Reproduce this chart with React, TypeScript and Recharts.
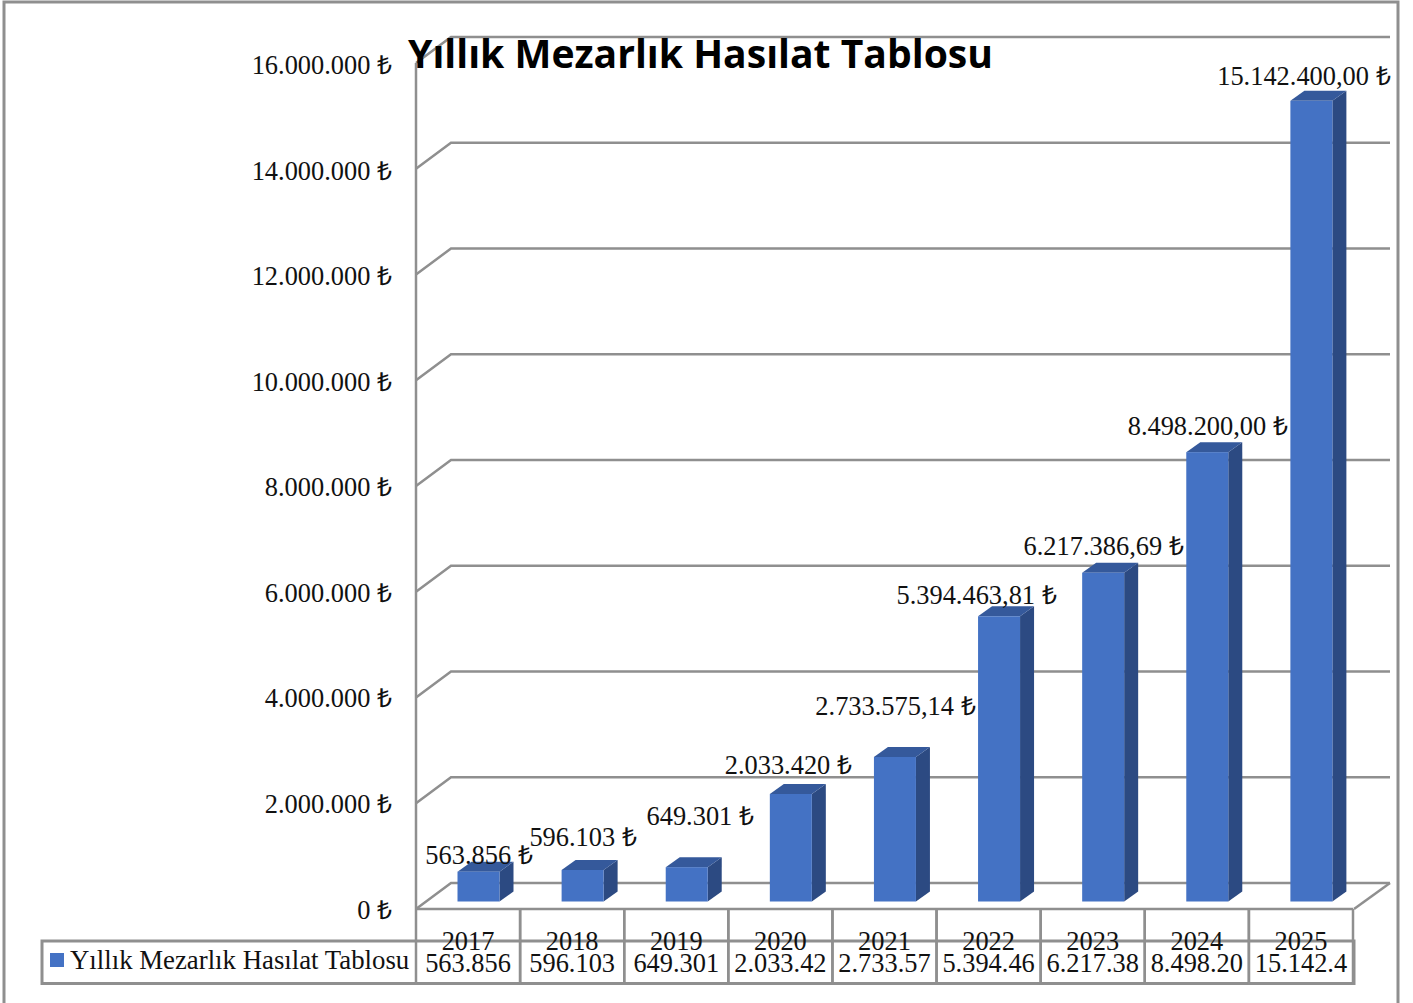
import React from "react";
import { Bar, CartesianGrid, ComposedChart, LabelList, XAxis, YAxis } from "recharts";

const years = ["2017", "2018", "2019", "2020", "2021", "2022", "2023", "2024", "2025"];
const revenue = [563856, 596103, 649301, 2033420, 2733575.14, 5394463.81, 6217386.69, 8498200, 15142400];
const barLabels = [
  "563.856 ₺",
  "596.103 ₺",
  "649.301 ₺",
  "2.033.420 ₺",
  "2.733.575,14 ₺",
  "5.394.463,81 ₺",
  "6.217.386,69 ₺",
  "8.498.200,00 ₺",
  "15.142.400,00 ₺",
];
// the source table cuts these off, kept as they appear
const tableCells = ["563.856", "596.103", "649.301", "2.033.42", "2.733.57", "5.394.46", "6.217.38", "8.498.20", "15.142.4"];
const yTicks = [0, 2000000, 4000000, 6000000, 8000000, 10000000, 12000000, 14000000, 16000000];
const yTickLabels = ["0 ₺", "2.000.000 ₺", "4.000.000 ₺", "6.000.000 ₺", "8.000.000 ₺", "10.000.000 ₺", "12.000.000 ₺", "14.000.000 ₺", "16.000.000 ₺"];
const seriesName = "Yıllık Mezarlık Hasılat Tablosu";

const chartData = years.map((year, i) => ({ year, value: revenue[i], cell: tableCells[i], label: barLabels[i] }));

const WIDTH = 1413;
const HEIGHT = 1003;
const LEFT = 416;
const RIGHT = 1353;
const TOP = 63;
const FLOOR = 909;
const BAND = (RIGHT - LEFT) / years.length;
const DEPTH_X = 35;
const DEPTH_Y = 26;
const LINE = "#8f8f8f";
const SERIF = "'Liberation Serif', 'Times New Roman', serif";
const TEXT_SIZE = 26.4;

// hand placed in the original, relative to the top centre of the bar
const labelShift: [number, number][] = [
  [0, -7], [0, -23], [13, -42], [-3, -19], [0, -41], [-23, -12], [0, -17], [0, -17], [-8, -15],
];

function Bar3D(props: any) {
  const { x, y, width, height } = props;
  const left = x + 10.5;
  const top = y - 7.5;
  const right = left + width;
  const bottom = top + height;
  const sx = 14;
  const sy = 10;
  return (
    <g>
      <polygon points={`${right},${top} ${right + sx},${top - sy} ${right + sx},${bottom - sy} ${right},${bottom}`} fill="#2c4a82" />
      <polygon points={`${left},${top} ${left + sx},${top - sy} ${right + sx},${top - sy} ${right},${top}`} fill="#35599b" />
      <rect x={left} y={top} width={width} height={height} fill="#4472c4" />
    </g>
  );
}

function BarLabel(props: any) {
  const { x, y, width, index } = props;
  const [sx, sy] = labelShift[index];
  return (
    <text x={x + width / 2 + 11 + sx} y={y - 8 + sy} textAnchor="middle" fontFamily={SERIF} fontSize={TEXT_SIZE} fill="#111">
      {barLabels[index]}
    </text>
  );
}

function WallLine(props: any) {
  const { y1, key } = props;
  return (
    <polyline
      key={key}
      points={`${LEFT},${y1} ${LEFT + DEPTH_X},${y1 - DEPTH_Y} ${RIGHT + DEPTH_X + 2},${y1 - DEPTH_Y}`}
      fill="none"
      stroke={LINE}
      strokeWidth={2.5}
    />
  );
}

function YTick(props: any) {
  const { y, payload } = props;
  const i = yTicks.indexOf(payload.value);
  return (
    <text x={392} y={y + 9.5 + i * 0.18} textAnchor="end" fontFamily={SERIF} fontSize={TEXT_SIZE} fill="#111">
      {yTickLabels[i]}
    </text>
  );
}

function TableTick(props: any) {
  const { x, payload, index } = props;
  const row = chartData[index];
  return (
    <g>
      <line x1={x - BAND / 2} x2={x - BAND / 2} y1={FLOOR} y2={984} stroke={LINE} strokeWidth={2.5} />
      <line x1={x + BAND / 2} x2={x + BAND / 2} y1={FLOOR} y2={984} stroke={LINE} strokeWidth={2.5} />
      <text x={x} y={950} textAnchor="middle" fontFamily={SERIF} fontSize={TEXT_SIZE} fill="#111">
        {payload.value}
      </text>
      <text x={x} y={972} textAnchor="middle" fontFamily={SERIF} fontSize={TEXT_SIZE} fill="#111">
        {row.cell}
      </text>
    </g>
  );
}

export default function App() {
  return (
    <div style={{ position: "absolute", left: 0, top: 0, width: WIDTH, height: HEIGHT, background: "#fff" }}>
      <ComposedChart
        width={WIDTH}
        height={HEIGHT}
        data={chartData}
        margin={{ top: TOP, right: WIDTH - RIGHT, bottom: 0, left: 0 }}
      >
        <CartesianGrid vertical={false} horizontal={WallLine as any} />
        <XAxis
          dataKey="year"
          height={HEIGHT - FLOOR}
          axisLine={{ stroke: LINE, strokeWidth: 2.5 }}
          tickLine={false}
          interval={0}
          tick={TableTick as any}
        />
        <YAxis
          width={LEFT}
          domain={[0, 16000000]}
          ticks={yTicks}
          interval={0}
          axisLine={{ stroke: LINE, strokeWidth: 2.5 }}
          tickLine={false}
          tick={YTick as any}
        />
        <Bar dataKey="value" barSize={42} isAnimationActive={false} shape={Bar3D as any}>
          <LabelList dataKey="label" content={BarLabel as any} />
        </Bar>

        {/* outer frame, open at the bottom like the source */}
        <polyline points={`4,1003 4,2 1398,2 1398,1003`} fill="none" stroke={LINE} strokeWidth={3} />
        {/* floor edge on the right */}
        <line x1={RIGHT + 1} y1={FLOOR} x2={RIGHT + DEPTH_X + 2} y2={FLOOR - DEPTH_Y} stroke={LINE} strokeWidth={2.5} />
        {/* legend cell and table rows */}
        <rect x={42} y={941} width={RIGHT - 41} height={42.5} fill="none" stroke={LINE} strokeWidth={3} />
        <rect x={50} y={953} width={14} height={14} fill="#4472c4" />
        <text x={70} y={969} fontFamily={SERIF} fontSize={26.8} fill="#111">
          {seriesName}
        </text>
        <text x={408} y={68} fontFamily="'Open Sans', sans-serif" fontWeight={700} fontSize={40} textLength={585} lengthAdjust="spacingAndGlyphs" fill="#000">
          {seriesName}
        </text>
      </ComposedChart>
    </div>
  );
}
